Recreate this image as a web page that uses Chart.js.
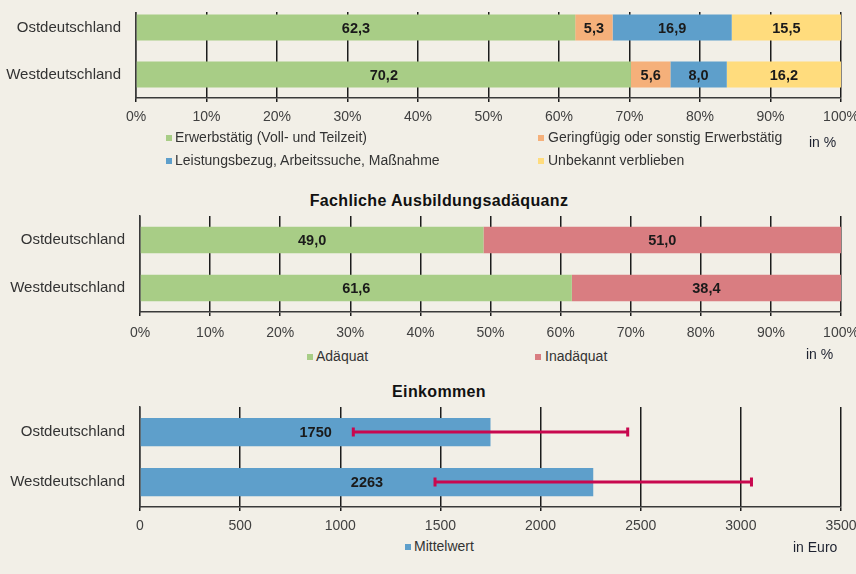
<!DOCTYPE html>
<html lang="de">
<head>
<meta charset="utf-8">
<script src="https://cdn.jsdelivr.net/npm/chart.js@4.4.1/dist/chart.umd.min.js"></script>
<style>
  body { margin: 0; width: 856px; height: 574px; overflow: hidden; position: relative;
         background: #f2efe7; font-family: "Liberation Sans", Arial, sans-serif; color: #333; }
  canvas { position: absolute; left: 0; }
  .title { position: absolute; left: 0; width: 878px; text-align: center; font-weight: bold;
           font-size: 16px; line-height: 18px; letter-spacing: 0.35px; color: #111; }
  .lg { position: absolute; font-size: 14px; line-height: 16px; white-space: nowrap; color: #333; }
  .lg i { position: absolute; left: 0; top: 6px; width: 6px; height: 6px; }
  .unit { position: absolute; font-size: 14px; line-height: 16px; color: #1e2230; }
</style>
</head>
<body>
<canvas id="verbleib" width="880" height="130" style="top:0"></canvas>
<div class="title" style="top:192px">Fachliche Ausbildungsadäquanz</div>
<canvas id="adaequanz" width="880" height="150" style="top:190px"></canvas>
<div class="title" style="top:383px">Einkommen</div>
<canvas id="einkommen" width="880" height="150" style="top:385px"></canvas>
<div id="legends"></div>

<script>
const regions = ["Ostdeutschland", "Westdeutschland"];

// Verbleib nach der Ausbildung (in %)
const statusNames = [
  "Erwerbstätig (Voll- und Teilzeit)",
  "Geringfügig oder sonstig Erwerbstätig",
  "Leistungsbezug, Arbeitssuche, Maßnahme",
  "Unbekannt verblieben"
];
const erwerbstaetig = [62.3, 70.2];
const geringfuegig = [5.3, 5.6];
const leistungsbezug = [16.9, 8.0];
const unbekannt = [15.5, 16.2];

// fachliche Ausbildungsadäquanz (in %)
const adaequanzNames = ["Adäquat", "Inadäquat"];
const adaequat = [49.0, 61.6];
const inadaequat = [51.0, 38.4];

// Einkommen (in Euro)
const einkommenName = "Mittelwert";
const mittelwert = [1750, 2263];
const streuungVon = [1065, 1473];
const streuungBis = [2435, 3053];

const pctTicks = [0, 10, 20, 30, 40, 50, 60, 70, 80, 90, 100];
const euroTicks = [0, 500, 1000, 1500, 2000, 2500, 3000, 3500];

const BG = "#f2efe7";
const GREEN = "#a8cd86";
const ORANGE = "#f5b07a";
const BLUE = "#5e9fcb";
const YELLOW = "#ffdc7d";
const RED = "#d97d81";
const FONT = '"Liberation Sans", Arial, sans-serif';

// zahlen in die balken schreiben
const valueLabels = {
  id: "valueLabels",
  afterDatasetsDraw(chart, args, opts) {
    const ctx = chart.ctx;
    ctx.save();
    ctx.font = "bold 14.5px " + FONT;
    ctx.fillStyle = "#1a1a1a";
    ctx.textAlign = "center";
    ctx.textBaseline = "middle";
    chart.data.datasets.forEach((ds, i) => {
      chart.getDatasetMeta(i).data.forEach((bar, j) => {
        const p = bar.getCenterPoint();
        const txt = ds.data[j].toFixed(opts.decimals).replace(".", ",");
        ctx.fillText(txt, p.x, p.y + 1);
      });
    });
    ctx.restore();
  }
};

// streuung als fehlerbalken
const errorBars = {
  id: "errorBars",
  afterDatasetsDraw(chart, args, opts) {
    if (!opts.show) return;
    const ctx = chart.ctx;
    const x = chart.scales.x;
    ctx.save();
    ctx.strokeStyle = opts.color;
    ctx.lineWidth = 3;
    chart.getDatasetMeta(0).data.forEach((bar, j) => {
      const y = bar.y;
      const x1 = x.getPixelForValue(streuungVon[j]);
      const x2 = x.getPixelForValue(streuungBis[j]);
      ctx.beginPath();
      ctx.moveTo(x1, y); ctx.lineTo(x2, y);
      ctx.moveTo(x1, y - 4.5); ctx.lineTo(x1, y + 4.5);
      ctx.moveTo(x2, y - 4.5); ctx.lineTo(x2, y + 4.5);
      ctx.stroke();
    });
    ctx.restore();
  }
};

// gitterlinien oben etwas kürzer (nur im ersten diagramm)
const gridMask = {
  id: "gridMask",
  beforeDatasetsDraw(chart, args, opts) {
    if (!opts.height) return;
    const a = chart.chartArea;
    chart.ctx.fillStyle = BG;
    chart.ctx.fillRect(a.left - 3, a.top - 1, a.right - a.left + 6, opts.height + 1);
  }
};

function makeChart(id, datasets, o) {
  return new Chart(document.getElementById(id), {
    type: "bar",
    data: { labels: regions, datasets },
    plugins: [gridMask, valueLabels, errorBars],
    options: {
      indexAxis: "y",
      responsive: false,
      animation: false,
      events: [],
      layout: { padding: { top: o.top, right: 39, bottom: 0, left: 0 } },
      datasets: { bar: { categoryPercentage: 1, barPercentage: o.barPct, borderWidth: 0 } },
      plugins: {
        legend: { display: false },
        tooltip: { enabled: false },
        valueLabels: { decimals: o.decimals },
        errorBars: { show: !!o.errors, color: "#c8084f" },
        gridMask: { height: o.mask || 0 }
      },
      scales: {
        x: {
          stacked: true,
          min: 0,
          max: o.max,
          afterBuildTicks: s => { s.ticks = o.ticks.map(v => ({ value: v })); },
          afterFit: s => { s.height = o.axisH; s.paddingLeft = 0; s.paddingRight = 0; },
          grid: { color: "#1c1c1c", lineWidth: 1.5, tickLength: 4, drawTicks: true },
          border: { display: true, color: "#3a3a3a", width: 1.5 },
          ticks: {
            padding: o.tickPad,
            color: "#404040",
            font: { family: FONT, size: 14 },
            maxRotation: 0,
            autoSkip: false,
            callback: v => v + o.suffix
          }
        },
        y: {
          stacked: true,
          afterFit: s => { s.width = o.left; s.paddingTop = 0; s.paddingBottom = 0; },
          grid: { display: false, drawTicks: false },
          border: { display: true, color: "#3a3a3a", width: 1.5 },
          ticks: { padding: 15, color: "#333", font: { family: FONT, size: 15 } }
        }
      }
    }
  });
}

makeChart("verbleib", [
  { label: statusNames[0], data: erwerbstaetig, backgroundColor: GREEN },
  { label: statusNames[1], data: geringfuegig, backgroundColor: ORANGE },
  { label: statusNames[2], data: leistungsbezug, backgroundColor: BLUE },
  { label: statusNames[3], data: unbekannt, backgroundColor: YELLOW }
], { top: 4, axisH: 32, left: 136, barPct: 0.55, max: 100, ticks: pctTicks, suffix: "%", tickPad: 7, decimals: 1, mask: 8 });

makeChart("adaequanz", [
  { label: adaequanzNames[0], data: adaequat, backgroundColor: GREEN },
  { label: adaequanzNames[1], data: inadaequat, backgroundColor: RED }
], { top: 26, axisH: 28, left: 140, barPct: 0.55, max: 100, ticks: pctTicks, suffix: "%", tickPad: 9, decimals: 1 });

makeChart("einkommen", [
  { label: einkommenName, data: mittelwert, backgroundColor: BLUE }
], { top: 22, axisH: 28, left: 140, barPct: 0.565, max: 3500, ticks: euroTicks, suffix: "", tickPad: 7, decimals: 0, errors: true });

// legenden als html
const legendItems = [
  [statusNames[0], GREEN, 166, 129, 9],
  [statusNames[1], ORANGE, 538, 129, 10],
  [statusNames[2], BLUE, 166, 152, 9],
  [statusNames[3], YELLOW, 538, 152, 10],
  [adaequanzNames[0], GREEN, 307, 348, 9],
  [adaequanzNames[1], RED, 535, 348, 10],
  [einkommenName, BLUE, 405, 538, 9]
];
const units = [["in %", 809, 134], ["in %", 806, 346], ["in Euro", 793, 539]];

let html = "";
legendItems.forEach(([name, color, left, top, gap]) => {
  html += `<div class="lg" style="left:${left}px;top:${top}px;padding-left:${gap}px">` +
          `<i style="background:${color}"></i>${name}</div>`;
});
units.forEach(([txt, left, top]) => {
  html += `<div class="unit" style="left:${left}px;top:${top}px">${txt}</div>`;
});
document.getElementById("legends").innerHTML = html;
</script>
</body>
</html>
